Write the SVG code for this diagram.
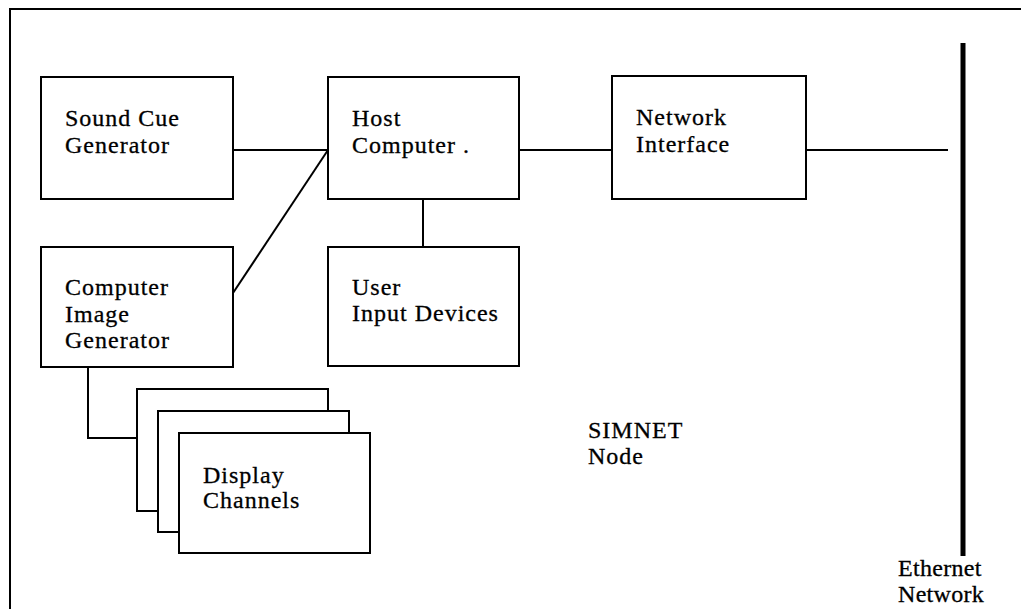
<svg xmlns="http://www.w3.org/2000/svg" width="1021" height="609" viewBox="0 0 1021 609">
<style>
.box{fill:#fff;stroke:#000;stroke-width:2}
.ln{fill:none;stroke:#000;stroke-width:2}
text{font-family:"Liberation Serif","Times New Roman",serif;font-size:24px;fill:#000;letter-spacing:1px;stroke:#000;stroke-width:0.3px}
</style>
<rect width="1021" height="609" fill="#fff"/>
<g id="frame">
<path class="ln" d="M10,609 V9 H1021"/>
</g>
<g id="connectors">
<path class="ln" d="M233,150 H328"/>
<path class="ln" d="M519,150 H612"/>
<path class="ln" d="M806,150 H948"/>
<path class="ln" d="M233,293 L328,150"/>
<path class="ln" d="M423,199 V247"/>
<path class="ln" d="M88,367 V438 H137"/>
</g>
<g id="ethernet">
<path d="M963,43 V556" stroke="#000" stroke-width="5"/>
<text x="898" y="576" style="letter-spacing:0.3px">Ethernet</text>
<text x="898" y="602" style="letter-spacing:0.3px">Network</text>
</g>
<g id="sound-cue">
<rect class="box" x="41" y="77" width="192" height="122"/>
<text x="65" y="126">Sound Cue</text>
<text x="65" y="153">Generator</text>
</g>
<g id="host">
<rect class="box" x="328" y="77" width="191" height="122"/>
<text x="352" y="126">Host</text>
<text x="352" y="153">Computer .</text>
</g>
<g id="netif">
<rect class="box" x="612" y="76" width="194" height="123"/>
<text x="636" y="125">Network</text>
<text x="636" y="152">Interface</text>
</g>
<g id="cig">
<rect class="box" x="41" y="247" width="192" height="120"/>
<text x="65" y="295">Computer</text>
<text x="65" y="322">Image</text>
<text x="65" y="348">Generator</text>
</g>
<g id="uid">
<rect class="box" x="328" y="247" width="191" height="119"/>
<text x="352" y="295">User</text>
<text x="352" y="321">Input Devices</text>
</g>
<g id="display">
<rect class="box" x="137" y="389" width="191" height="122"/>
<rect class="box" x="158" y="411" width="191" height="121"/>
<rect class="box" x="179" y="433" width="191" height="120"/>
<text x="203" y="483">Display</text>
<text x="203" y="508">Channels</text>
</g>
<g id="simnet">
<text x="588" y="438">SIMNET</text>
<text x="588" y="464">Node</text>
</g>
</svg>
